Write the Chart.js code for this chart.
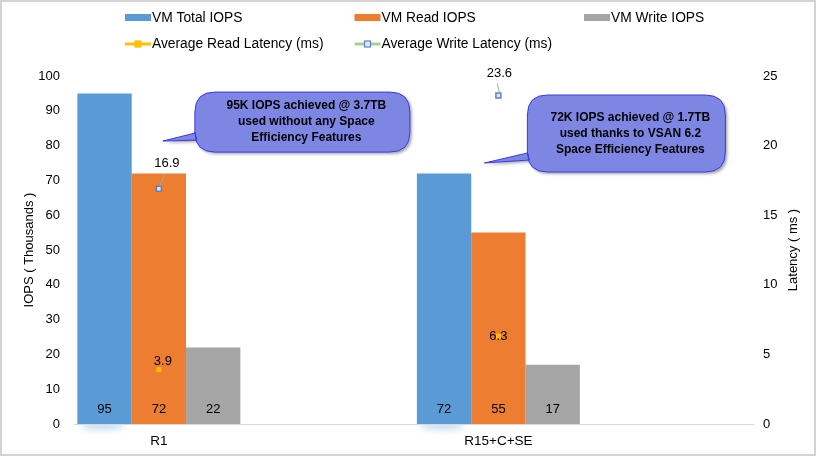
<!DOCTYPE html>
<html>
<head>
<meta charset="utf-8">
<script src="https://cdn.jsdelivr.net/npm/chart.js@4.4.1/dist/chart.umd.min.js"></script>
<style>
  html, body { margin: 0; padding: 0; background: #fff; }
  #wrap { width: 819px; height: 457px; }
</style>
</head>
<body>
<div id="wrap"><canvas id="chart" width="819" height="457"></canvas></div>
<script>
// data
const categories = ['R1', 'R15+C+SE'];
const totalIops = [95, 72];      // thousands
const readIops = [72, 55];
const writeIops = [22, 17];
const readLatency = [3.9, 6.3];  // ms
const writeLatency = [16.9, 23.6];
const iopsTicks = { min: 0, max: 100, step: 10 };
const latencyTicks = { min: 0, max: 25, step: 5 };

const callouts = [
  { cat: 0, value: 81.3, text: ['95K IOPS achieved @ 3.7TB', 'used without any Space', 'Efficiency Features'] },
  { cat: 1, value: 75, text: ['72K IOPS achieved @ 1.7TB', 'used thanks to VSAN 6.2', 'Space Efficiency Features'] }
];

// each category gets an empty slot after it (the original leaves a gap)
const labels = categories.flatMap(c => [c, '']);
const spread = arr => arr.flatMap(v => [v, null]);

const FONT = '"Liberation Sans", Arial, sans-serif';
Chart.defaults.font.family = FONT;
Chart.defaults.font.size = 13;
Chart.defaults.color = '#000';

// label offsets for the latency values (px), per point
const lineLabelOffsets = {
  3: [[4, -8], [0, 0]],
  4: [[8, -25], [1, -22]]
};
// callout box geometry relative to tail tip
const calloutBoxes = [
  { dx: 4, x0: 32, x1: 247, y0: -49, y1: 11 },
  { dx: -14, x0: 43, x1: 241, y0: -68, y1: 9 }
];

const extrasPlugin = {
  id: 'extras',
  beforeDraw(chart) {
    const ctx = chart.ctx;
    const { bottom } = chart.chartArea;
    // soft glow under the blue bars
    const meta = chart.getDatasetMeta(0);
    meta.data.forEach((el, i) => {
      if (chart.data.datasets[0].data[i] == null) return;
      ctx.save();
      ctx.fillStyle = 'rgba(91,155,213,0.35)';
      ctx.filter = 'blur(3px)';
      ctx.beginPath();
      ctx.ellipse(el.x - 2, bottom + 2, 22, 4, 0, 0, Math.PI * 2);
      ctx.fill();
      ctx.restore();
    });
  },
  afterDatasetsDraw(chart) {
    const ctx = chart.ctx;
    const { bottom } = chart.chartArea;
    ctx.save();
    ctx.font = '13px ' + FONT;
    ctx.fillStyle = '#000';
    ctx.textAlign = 'center';
    ctx.textBaseline = 'middle';
    // bar values at the foot of each bar
    [0, 1, 2].forEach(di => {
      chart.getDatasetMeta(di).data.forEach((el, i) => {
        const v = chart.data.datasets[di].data[i];
        if (v == null) return;
        ctx.fillText(String(Math.round(v)), el.x, bottom - 15);
      });
    });
    // latency values
    [3, 4].forEach(di => {
      let k = 0;
      chart.getDatasetMeta(di).data.forEach((el, i) => {
        const v = chart.data.datasets[di].data[i];
        if (v == null) return;
        const [dx, dy] = lineLabelOffsets[di][k++];
        const tx = el.x + dx, ty = el.y + dy;
        if (dy < -20) {
          ctx.strokeStyle = '#a6a6a6';
          ctx.lineWidth = 1;
          ctx.beginPath();
          ctx.moveTo(tx - 2, ty + 10);
          ctx.lineTo(el.x + 1, el.y - 3);
          ctx.stroke();
        }
        ctx.fillText(v.toFixed(1), tx, ty);
      });
    });
    ctx.restore();
  },
  afterDraw(chart) {
    const ctx = chart.ctx;
    const x = chart.scales.x, y = chart.scales.y;
    // callouts
    callouts.forEach((c, n) => {
      const g = calloutBoxes[n];
      const tipX = x.getPixelForValue(c.cat * 2) + g.dx;
      const tipY = y.getPixelForValue(c.value);
      const L = tipX + g.x0, R = tipX + g.x1, T = tipY + g.y0, B = tipY + g.y1;
      const r = 20;
      const path = () => {
        ctx.beginPath();
        ctx.moveTo(L + r, T);
        ctx.lineTo(R - r, T);
        ctx.quadraticCurveTo(R, T, R, T + r);
        ctx.lineTo(R, B - r);
        ctx.quadraticCurveTo(R, B, R - r, B);
        ctx.lineTo(L + r, B);
        ctx.quadraticCurveTo(L, B, L, B - r);
        ctx.lineTo(L + 2, B - 12);
        ctx.lineTo(tipX, tipY);
        ctx.lineTo(L, B - 19);
        ctx.lineTo(L, T + r);
        ctx.quadraticCurveTo(L, T, L + r, T);
        ctx.closePath();
      };
      ctx.save();
      ctx.shadowColor = 'rgba(0,0,0,0.35)';
      ctx.shadowBlur = 3;
      ctx.shadowOffsetX = 2;
      ctx.shadowOffsetY = 2;
      path();
      ctx.fillStyle = '#7e86e4';
      ctx.fill();
      ctx.restore();
      ctx.save();
      path();
      ctx.strokeStyle = '#3a3ae6';
      ctx.lineWidth = 1;
      ctx.stroke();
      ctx.font = 'bold 12px ' + FONT;
      ctx.fillStyle = '#000';
      ctx.textAlign = 'center';
      ctx.textBaseline = 'middle';
      const cx = (L + R) / 2 + 4, cy = (T + B) / 2;
      c.text.forEach((line, i) => ctx.fillText(line, cx, cy + (i - 1) * 16));
      ctx.restore();
    });

    // right axis title, reading bottom to top
    const y1 = chart.scales.y1;
    ctx.save();
    ctx.font = '13px ' + FONT;
    ctx.fillStyle = '#000';
    ctx.textAlign = 'center';
    ctx.textBaseline = 'middle';
    ctx.translate(793, (y1.top + y1.bottom) / 2);
    ctx.rotate(-Math.PI / 2);
    ctx.fillText('Latency ( ms )', 0, 0);
    ctx.restore();

    // legend in a 3-column grid
    ctx.save();
    ctx.font = '13.8px ' + FONT;
    ctx.textBaseline = 'middle';
    chart.data.datasets.forEach((ds, i) => {
      const lx = 125 + (i % 3) * 229.5;
      const ly = 18 + Math.floor(i / 3) * 26;
      if (ds.type === 'line') {
        ctx.strokeStyle = ds.legendColor;
        ctx.lineWidth = 3;
        ctx.beginPath();
        ctx.moveTo(lx, ly);
        ctx.lineTo(lx + 26, ly);
        ctx.stroke();
        ctx.fillStyle = ds.pointBackgroundColor;
        ctx.fillRect(lx + 10, ly - 3, 6, 6);
        ctx.strokeStyle = ds.pointBorderColor;
        ctx.lineWidth = 1.2;
        ctx.strokeRect(lx + 10, ly - 3, 6, 6);
      } else {
        ctx.fillStyle = ds.backgroundColor;
        ctx.fillRect(lx, ly - 4, 26, 7);
      }
      ctx.fillStyle = '#000';
      ctx.fillText(ds.label, lx + 27, ly);
    });
    ctx.restore();

    // frame
    ctx.save();
    ctx.strokeStyle = '#d4d4d4';
    ctx.lineWidth = 2;
    ctx.strokeRect(1, 1, 814, 454);
    ctx.restore();
  }
};

new Chart(document.getElementById('chart'), {
  type: 'bar',
  data: {
    labels: labels,
    datasets: [
      { label: 'VM Total IOPS', data: spread(totalIops), backgroundColor: '#5b9bd5', yAxisID: 'y', order: 2 },
      { label: 'VM Read IOPS', data: spread(readIops), backgroundColor: '#ed7d31', yAxisID: 'y', order: 2 },
      { label: 'VM Write IOPS', data: spread(writeIops), backgroundColor: '#a5a5a5', yAxisID: 'y', order: 2 },
      {
        type: 'line', label: 'Average Read Latency (ms)', data: spread(readLatency), yAxisID: 'y1',
        showLine: false, pointStyle: 'rect', pointRadius: 3.5, pointBorderWidth: 0,
        pointBackgroundColor: '#ffc000', pointBorderColor: '#ffc000', legendColor: '#ffc000', order: 1
      },
      {
        type: 'line', label: 'Average Write Latency (ms)', data: spread(writeLatency), yAxisID: 'y1',
        showLine: false, pointStyle: 'rect', pointRadius: 3.5, pointBorderWidth: 1.5,
        pointBackgroundColor: '#dde6f3', pointBorderColor: '#5f82c4', legendColor: '#a9d18e', order: 1
      }
    ]
  },
  options: {
    responsive: false,
    animation: false,
    layout: { padding: { top: 76, left: 0, right: 0, bottom: 0 } },
    datasets: { bar: { categoryPercentage: 0.96, barPercentage: 1 } },
    plugins: { legend: { display: false }, tooltip: { enabled: false } },
    scales: {
      x: {
        grid: { display: false, drawTicks: false },
        border: { color: '#d9d9d9', width: 1 },
        ticks: { padding: 9, autoSkip: false, maxRotation: 0, font: { size: 13.5 } },
        afterFit: s => { s.height = 33; }
      },
      y: {
        position: 'left',
        min: iopsTicks.min, max: iopsTicks.max,
        ticks: { stepSize: iopsTicks.step, padding: 14 },
        grid: { display: false, drawTicks: false },
        border: { display: false },
        title: { display: true, text: 'IOPS ( Thousands )', padding: { top: 22, bottom: 0 } },
        afterFit: s => { s.width = 74; }
      },
      y1: {
        position: 'right',
        min: latencyTicks.min, max: latencyTicks.max,
        ticks: { stepSize: latencyTicks.step, padding: 10 },
        grid: { display: false, drawTicks: false },
        border: { display: false },
        afterFit: s => { s.width = 66; }
      }
    }
  },
  plugins: [extrasPlugin]
});
</script>
</body>
</html>
